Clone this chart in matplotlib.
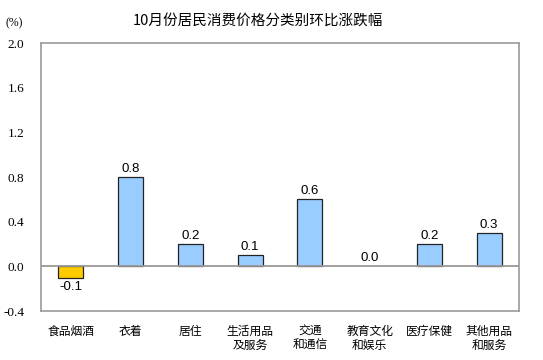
import matplotlib
matplotlib.use("Agg")
import matplotlib.pyplot as plt

categories = ["食品烟酒", "衣着", "居住", "生活用品\n及服务", "交通\n和通信", "教育文化\n和娱乐", "医疗保健", "其他用品\n和服务"]
values = [-0.1, 0.8, 0.2, 0.1, 0.6, 0.0, 0.2, 0.3]
yticks = [-0.4, 0.0, 0.4, 0.8, 1.2, 1.6, 2.0]

cjk = ["Noto Sans CJK SC", "DejaVu Sans"]

fig = plt.figure(figsize=(5.43, 3.6), dpi=100)
ax = fig.add_axes([41/543, 49/360, 478/543, 268/360])

colors = ["#FFCC00" if v < 0 else "#99CCFF" for v in values]
edges = ["none" if v == 0 else "#222222" for v in values]
x = list(range(len(values)))
ax.bar(x, values, width=0.42, color=colors, edgecolor=edges, linewidth=0.9, zorder=3)
ax.axhline(0, color="#999999", linewidth=1.3, zorder=4)

ax.set_xlim(-0.5, len(values) - 0.5)
ax.set_ylim(-0.4, 2.0)
ax.set_yticks(yticks)
ax.set_yticklabels([f"{t:.1f}" for t in yticks], family="Liberation Serif", fontsize=9.5)
ax.tick_params(axis="y", length=0, pad=12)
ax.set_xticks(x)
ax.set_xticklabels(categories, family=cjk, fontsize=8.5, linespacing=1.1)
ax.tick_params(axis="x", length=0, pad=10)
for s in ax.spines.values():
    s.set_color("#999999")
    s.set_linewidth(1.2)

for xi, v in zip(x, values):
    if v < 0:
        ax.text(xi, v - 0.03, f"{v:.1f}", ha="center", va="top", family="Liberation Sans", fontsize=9.5)
    else:
        ax.text(xi, v + 0.02, f"{v:.1f}", ha="center", va="bottom", family="Liberation Sans", fontsize=9.5)

fig.text(258/543, 1 - 21/360, "10月份居民消费价格分类别环比涨跌幅", ha="center", va="center", family=cjk, fontsize=10.5)
fig.text(6/543, 1 - 23/360, "(%)", ha="left", va="center", family="Liberation Serif", fontsize=8.5)

fig.savefig("out.png", dpi=100)
